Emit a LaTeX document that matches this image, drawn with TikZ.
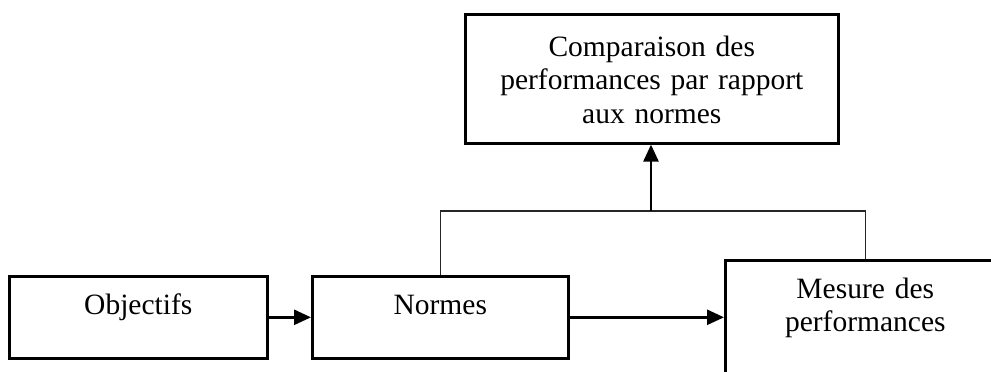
\documentclass[tikz,border=0pt]{standalone}
\usepackage{fontspec}
\setmainfont{Liberation Serif}
\usetikzlibrary{arrows.meta}
\begin{document}
\begin{tikzpicture}[x=1pt, y=-1pt,
    boite/.style={draw, line width=2.6pt, inner sep=0pt, anchor=north west, align=center,
      font=\fontsize{29.5}{33.5}\selectfont},
    fleche/.style={black, line width=2.6pt, -{Triangle[length=17pt,width=15pt]}},
    lien/.style={black!85, line width=1.6pt}]
  \useasboundingbox (0,0) rectangle (991,372);
  % les cadres
  \node [boite, text width=258pt, text height=38pt, text depth=44pt] (objectifs) at (8,275) {Objectifs};
  \node [boite, text width=256pt, text height=38pt, text depth=44pt] (normes) at (311,275) {Normes};
  \node [boite, text width=280pt, text height=38pt, text depth=130pt] (mesure) at (724,259) {Mesure des\\performances};
  \node [boite, text width=373pt, text height=42pt, text depth=87pt] (comparaison) at (464,13)
    {Comparaison des\\performances par rapport\\aux normes};
  \coordinate (fourche) at (651,211);
  % les fleches
  \draw [fleche] (objectifs) -- (normes);
  \draw [fleche] (normes.east) -- (normes.east -| mesure.west);
  \draw [lien] (normes.north) |- (fourche) -| (mesure.north);
  \draw [fleche] (fourche) -- (fourche |- comparaison.south);
\end{tikzpicture}
\end{document}
